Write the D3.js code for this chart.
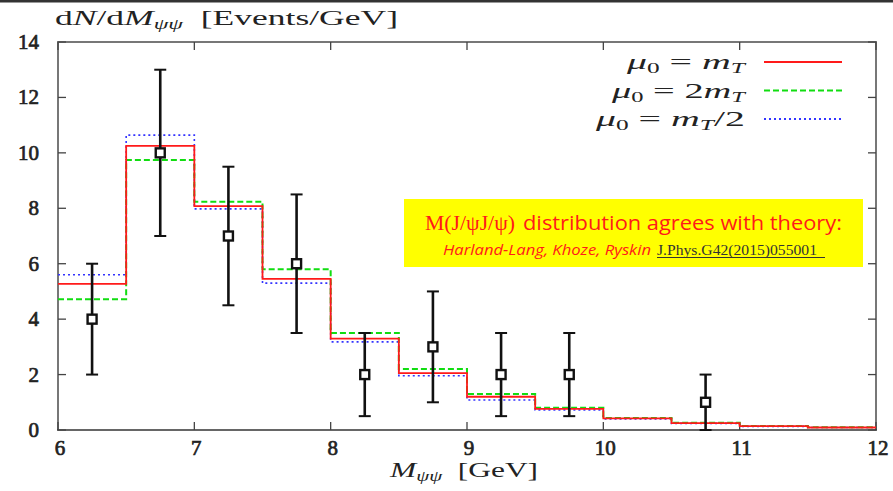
<!DOCTYPE html>
<html><head><meta charset="utf-8">
<script src="https://cdn.jsdelivr.net/npm/d3@7"></script>
<style>body{margin:0;background:#fff}svg{display:block}</style>
</head><body>
<svg id="c" width="893" height="491"></svg>
<script>
const binEdges = [6,6.5,7,7.5,8,8.5,9,9.5,10,10.5,11,11.5,12];
const redMT    = [5.27,10.25,8.08,5.45,3.3,2.05,1.2,0.76,0.42,0.25,0.14,0.09];
const green2MT = [4.72,9.74,8.24,5.8,3.5,2.2,1.3,0.8,0.43,0.26,0.14,0.1];
const blueHalf = [5.6,10.64,7.98,5.3,3.18,1.96,1.08,0.72,0.4,0.24,0.13,0.09];
const dataX    = [6.25,6.75,7.25,7.75,8.25,8.75,9.25,9.75,10.75];
const dataY    = [4,10,7,6,2,3,2,2,1];
const dataLo   = [2,7,4.5,3.5,0.5,1,0.5,0.5,0];
const dataHi   = [6,13,9.5,8.5,3.5,5,3.5,3.5,2];
const xTicks   = [6,7,8,9,10,11,12];
const yTicks   = [0,2,4,6,8,10,12,14];

const svg = d3.select("#c");
const L=58,R=876,T=42,B=430;
const x = d3.scaleLinear().domain([6,12]).range([L,R]);
const y = d3.scaleLinear().domain([0,14]).range([B,T]);
const serif = "'Liberation Serif', 'Times New Roman', serif";
const sans = "'Open Sans', 'DejaVu Sans', sans-serif";

// top dark strip
svg.append("rect").attr("x",0).attr("y",0).attr("width",893).attr("height",2.5).attr("fill","#333");

// frame
const fr = svg.append("g").attr("fill","none");
fr.append("path").attr("d",`M${L},${B}V${T}H${R}V${B}`).attr("stroke","#777").attr("stroke-width",2);
fr.append("line").attr("x1",L-1).attr("x2",R+1).attr("y1",B).attr("y2",B).attr("stroke","#333").attr("stroke-width",1.6);

// ticks (inward, mirrored)
const tl=8;
const tg = svg.append("g").attr("stroke","#444").attr("stroke-width",1.3);
xTicks.forEach(t=>{
  tg.append("line").attr("x1",x(t)).attr("x2",x(t)).attr("y1",B).attr("y2",B-tl);
  tg.append("line").attr("x1",x(t)).attr("x2",x(t)).attr("y1",T).attr("y2",T+tl);
});
yTicks.forEach(t=>{
  tg.append("line").attr("x1",L).attr("x2",L+tl).attr("y1",y(t)).attr("y2",y(t));
  tg.append("line").attr("x1",R).attr("x2",R-tl).attr("y1",y(t)).attr("y2",y(t));
});

// tick labels (serif, emboldened with a thin stroke)
svg.append("g").selectAll("text").data(xTicks).join("text")
  .attr("x",d=>x(d)+2).attr("y",B+25).attr("text-anchor","middle")
  .style("font-family",serif).style("font-size","21px").attr("fill","#222").attr("stroke","#222").attr("stroke-width",0.7)
  .text(d=>d);
svg.append("g").selectAll("text").data(yTicks).join("text")
  .attr("x",L-19).attr("y",d=>y(d)+7).attr("text-anchor","end")
  .style("font-family",serif).style("font-size","21px").attr("fill","#222").attr("stroke","#222").attr("stroke-width",0.7)
  .text(d=>d);

// axis titles
const yt = svg.append("text").attr("x",55).attr("y",25).attr("textLength",343).attr("lengthAdjust","spacingAndGlyphs")
  .style("font-family",serif).style("font-size","21px").attr("fill","#222");
yt.append("tspan").text("d");
yt.append("tspan").style("font-style","italic").text("N");
yt.append("tspan").text("/d");
yt.append("tspan").style("font-style","italic").text("M");
yt.append("tspan").style("font-style","italic").style("font-size","14px").attr("dy",4).text("ψψ");
yt.append("tspan").attr("dy",-4).text("\u00a0\u00a0[Events/GeV]");

const xt = svg.append("text").attr("x",390).attr("y",477).attr("textLength",148).attr("lengthAdjust","spacingAndGlyphs")
  .style("font-family",serif).style("font-size","21px").attr("fill","#222");
xt.append("tspan").style("font-style","italic").text("M");
xt.append("tspan").style("font-style","italic").style("font-size","14px").attr("dy",4).text("ψψ");
xt.append("tspan").attr("dy",-4).text("\u00a0\u00a0[GeV]");

// histograms
const line = d3.line().x(d=>x(d[0])).y(d=>y(d[1])).curve(d3.curveStepAfter);
function pts(vals){ const p = vals.map((v,i)=>[binEdges[i],v]); p.push([binEdges[binEdges.length-1], vals[vals.length-1]]); return p; }
const series = [
  {vals:blueHalf, color:"#3333ff", dash:"2,3", w:1.6},
  {vals:green2MT, color:"#11dd11", dash:"6,3", w:2},
  {vals:redMT, color:"#ff1a1a", dash:null, w:1.8}
];
series.forEach(s=>{
  svg.append("path").attr("d",line(pts(s.vals))).attr("fill","none")
    .attr("stroke",s.color).attr("stroke-width",s.w).attr("stroke-dasharray",s.dash);
});

// data points with error bars
const dg = svg.append("g").attr("stroke","#111").attr("fill","none");
dataX.forEach((dx,i)=>{
  const px=x(dx);
  dg.append("line").attr("x1",px).attr("x2",px).attr("y1",y(dataLo[i])).attr("y2",y(dataHi[i])).attr("stroke-width",2.6);
  dg.append("line").attr("x1",px-6).attr("x2",px+6).attr("y1",y(dataLo[i])).attr("y2",y(dataLo[i])).attr("stroke-width",2);
  dg.append("line").attr("x1",px-6).attr("x2",px+6).attr("y1",y(dataHi[i])).attr("y2",y(dataHi[i])).attr("stroke-width",2);
  dg.append("rect").attr("x",px-4.5).attr("y",y(dataY[i])-4.5).attr("width",9).attr("height",9).attr("fill","#fff").attr("stroke-width",2.4);
});

// legend
const legend = [
  {lab:["μ","0","\u00a0=\u00a0","m","T",""], len:118, color:"#ff1a1a", dash:null, w:1.8},
  {lab:["μ","0","\u00a0=\u00a02","m","T",""], len:133, color:"#11dd11", dash:"6,3", w:2},
  {lab:["μ","0","\u00a0=\u00a0","m","T","/2"], len:149, color:"#3333ff", dash:"2,3", w:2}
];
legend.forEach((l,i)=>{
  const ly = 62+i*28.5;
  const t = svg.append("text").attr("x",745-l.len).attr("y",ly+7).attr("textLength",l.len).attr("lengthAdjust","spacingAndGlyphs")
    .style("font-family",serif).style("font-size","22px").attr("fill","#222");
  t.append("tspan").style("font-style","italic").text(l.lab[0]);
  t.append("tspan").style("font-size","14px").attr("dy",4).text(l.lab[1]);
  t.append("tspan").attr("dy",-4).text(l.lab[2]);
  t.append("tspan").style("font-style","italic").text(l.lab[3]);
  t.append("tspan").style("font-style","italic").style("font-size","14px").attr("dy",4).text(l.lab[4]);
  t.append("tspan").attr("dy",-4).text(l.lab[5]);
  svg.append("line").attr("x1",764).attr("x2",842).attr("y1",ly).attr("y2",ly)
    .attr("stroke",l.color).attr("stroke-width",l.w).attr("stroke-dasharray",l.dash);
});

// annotation box
svg.append("rect").attr("x",404).attr("y",199).attr("width",459).attr("height",68).attr("fill","#ffff00");
svg.append("text").attr("x",425).attr("y",230).attr("textLength",90).attr("lengthAdjust","spacingAndGlyphs")
  .style("font-family",serif).style("font-size","20px").attr("fill","#ff1a1a").text("M(J/ψJ/ψ)");
svg.append("text").attr("x",523).attr("y",230).attr("textLength",319).attr("lengthAdjust","spacingAndGlyphs")
  .style("font-family",sans).style("font-size","20px").attr("fill","#ff1a1a").text("distribution agrees with theory:");
svg.append("text").attr("x",443).attr("y",255).attr("textLength",208).attr("lengthAdjust","spacingAndGlyphs")
  .style("font-family",sans).style("font-style","italic").style("font-size","14.5px").attr("fill","#ff1a1a").text("Harland-Lang, Khoze, Ryskin");
svg.append("text").attr("x",657).attr("y",255).attr("textLength",160).attr("lengthAdjust","spacingAndGlyphs")
  .style("font-family",serif).style("font-size","15px").attr("fill","#333").text("J.Phys.G42(2015)055001");
svg.append("line").attr("x1",657).attr("x2",825).attr("y1",257.5).attr("y2",257.5).attr("stroke","#333").attr("stroke-width",1);
</script>
</body></html>
